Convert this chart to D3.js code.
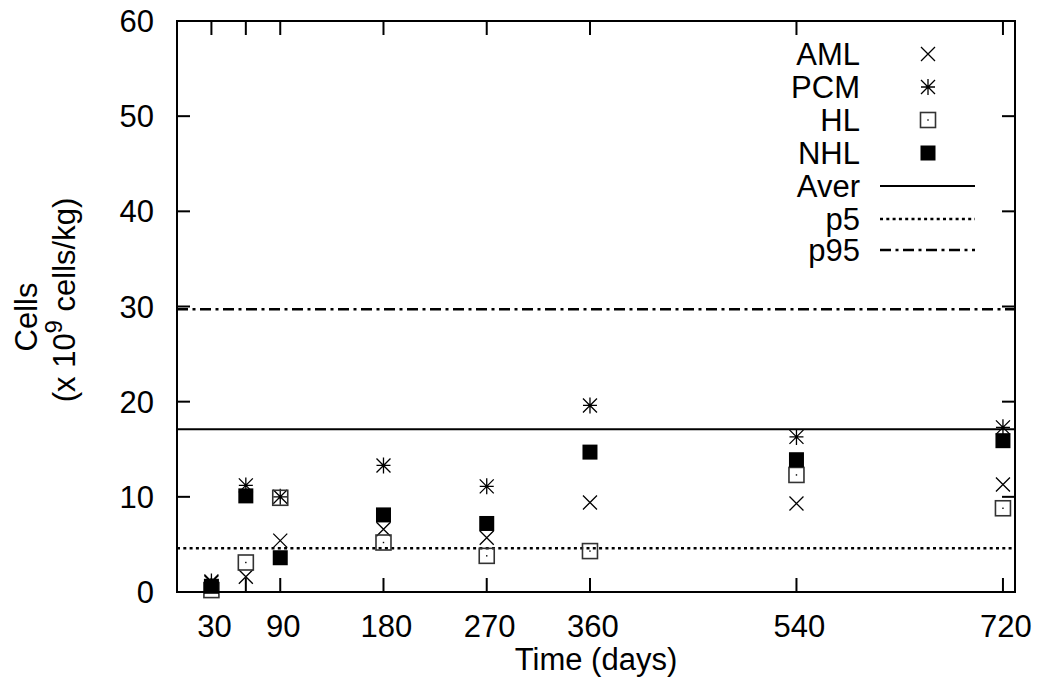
<!DOCTYPE html>
<meta charset="utf-8">
<style>
body { margin: 0; background: #fff; }
svg text { font-family: "Liberation Sans", Arial, sans-serif; fill: #000; }
</style>
<svg width="1039" height="696"></svg>
<script src="https://cdn.jsdelivr.net/npm/d3@7/dist/d3.min.js"></script>
<script>

// days for each group of measurements
var days = [30, 60, 90, 180, 270, 360, 540, 720];

// cells (x 10^9 cells/kg), one value per day
var aml = [1.0, 1.6, 5.4, 6.6, 5.7, 9.4, 9.3, 11.3];
var pcm = [1.1, 11.2, 10.0, 13.3, 11.1, 19.6, 16.3, 17.3];
var hl  = [0.2, 3.1, 9.9, 5.2, 3.8, 4.3, 12.3, 8.8];
var nhl = [0.6, 10.1, 3.6, 8.1, 7.2, 14.7, 13.9, 15.9];

// reference levels
var aver = 17.1, p5 = 4.6, p95 = 29.7;

var xTicks = [30, 60, 90, 180, 270, 360, 540, 720];
var xLabels = ["30", "", "90", "180", "270", "360", "540", "720"];
var yTicks = [0, 10, 20, 30, 40, 50, 60];

var svg = d3.select("svg");
var plotL = 177, plotR = 1015, plotT = 21, plotB = 592;

var x = d3.scaleLinear().domain([0, 730.5]).range([plotL, plotR]);
var y = d3.scaleLinear().domain([0, 60]).range([plotB, plotT]);

// reference lines
var refs = [
  {name: "Aver", v: aver, dash: null, w: 2},
  {name: "p5", v: p5, dash: "3,3.3", w: 2.5},
  {name: "p95", v: p95, dash: "11,4.5,3,4.5", w: 2.5}
];

svg.selectAll("line.ref").data(refs).enter().append("line")
    .attr("class", "ref")
    .attr("x1", plotL).attr("x2", plotR)
    .attr("y1", function(d) { return y(d.v); })
    .attr("y2", function(d) { return y(d.v); })
    .attr("stroke", "#000")
    .attr("stroke-width", function(d) { return d.w; })
    .attr("stroke-dasharray", function(d) { return d.dash; });

// marker painters
function cross(g) {
  g.append("path").attr("d", "M-7,-7L7,7M-7,7L7,-7")
      .attr("stroke", "#000").attr("stroke-width", 1.3).attr("fill", "none");
}
function star(g) {
  g.append("path").attr("d", "M-7,-7L7,7M-7,7L7,-7M0,-8L0,8M-7,0L7,0")
      .attr("stroke", "#000").attr("stroke-width", 1.3).attr("fill", "none");
}
function openSquare(g) {
  g.append("rect").attr("x", -7.5).attr("y", -7.5).attr("width", 15).attr("height", 15)
      .attr("fill", "none").attr("stroke", "#333").attr("stroke-width", 1.6);
  g.append("rect").attr("x", -0.7).attr("y", -0.7).attr("width", 1.4).attr("height", 1.4)
      .attr("fill", "#000");
}
function filledSquare(g) {
  g.append("rect").attr("x", -7.5).attr("y", -7.5).attr("width", 15).attr("height", 15)
      .attr("fill", "#000");
}

var series = [
  {name: "AML", values: aml, draw: cross},
  {name: "PCM", values: pcm, draw: star},
  {name: "HL", values: hl, draw: openSquare},
  {name: "NHL", values: nhl, draw: filledSquare}
];

series.forEach(function(s) {
  svg.append("g").selectAll("g")
      .data(s.values).enter().append("g")
      .attr("transform", function(d, i) { return "translate(" + x(days[i]) + "," + y(d) + ")"; })
      .each(function() { s.draw(d3.select(this)); });
});

// frame and ticks
var frame = svg.append("g").attr("stroke", "#000").attr("stroke-width", 2).attr("fill", "none");
frame.append("rect").attr("x", plotL).attr("y", plotT)
    .attr("width", plotR - plotL).attr("height", plotB - plotT);

xTicks.forEach(function(t) {
  frame.append("line").attr("x1", x(t)).attr("x2", x(t)).attr("y1", plotB).attr("y2", plotB - 14);
  frame.append("line").attr("x1", x(t)).attr("x2", x(t)).attr("y1", plotT).attr("y2", plotT + 14);
});
yTicks.forEach(function(t) {
  frame.append("line").attr("x1", plotL).attr("x2", plotL + 13).attr("y1", y(t)).attr("y2", y(t));
  frame.append("line").attr("x1", plotR).attr("x2", plotR - 13).attr("y1", y(t)).attr("y2", y(t));
});

var fs = 31;

svg.append("g").selectAll("text").data(xTicks).enter().append("text")
    .attr("x", function(d) { return x(d) + 3; })
    .attr("y", 637)
    .attr("text-anchor", "middle")
    .style("font-size", fs + "px")
    .text(function(d, i) { return xLabels[i]; });

svg.append("g").selectAll("text").data(yTicks).enter().append("text")
    .attr("x", 154)
    .attr("y", function(d) { return y(d) + 11; })
    .attr("text-anchor", "end")
    .style("font-size", fs + "px")
    .text(function(d) { return d; });

// axis titles
svg.append("text")
    .attr("x", (plotL + plotR) / 2).attr("y", 670)
    .attr("text-anchor", "middle")
    .style("font-size", fs + "px")
    .text("Time (days)");

svg.append("text")
    .attr("transform", "translate(37,317) rotate(-90)")
    .attr("text-anchor", "middle")
    .style("font-size", fs + "px")
    .text("Cells");

var yl = svg.append("text")
    .attr("transform", "translate(75,300) rotate(-90)")
    .attr("text-anchor", "middle")
    .style("font-size", fs + "px");
yl.append("tspan").text("(x 10");
yl.append("tspan").attr("dy", -13).style("font-size", "24px").text("9");
yl.append("tspan").attr("dy", 13).text(" cells/kg)");

// legend
var legY = [54, 87, 120, 153, 186, 219, 250];
var legend = series.map(function(s) { return {name: s.name, draw: s.draw}; })
    .concat(refs.map(function(r) { return {name: r.name, ref: r}; }));

var lg = svg.append("g").selectAll("g").data(legend).enter().append("g")
    .attr("transform", function(d, i) { return "translate(0," + legY[i] + ")"; });

lg.append("text")
    .attr("x", 860).attr("y", 11)
    .attr("text-anchor", "end")
    .style("font-size", fs + "px")
    .text(function(d) { return d.name; });

lg.each(function(d) {
  var g = d3.select(this);
  if (d.draw) {
    d.draw(g.append("g").attr("transform", "translate(928,0)"));
  } else {
    g.append("line").attr("x1", 880).attr("x2", 975).attr("y1", 0).attr("y2", 0)
        .attr("stroke", "#000")
        .attr("stroke-width", d.ref.w)
        .attr("stroke-dasharray", d.ref.dash);
  }
});

</script>
